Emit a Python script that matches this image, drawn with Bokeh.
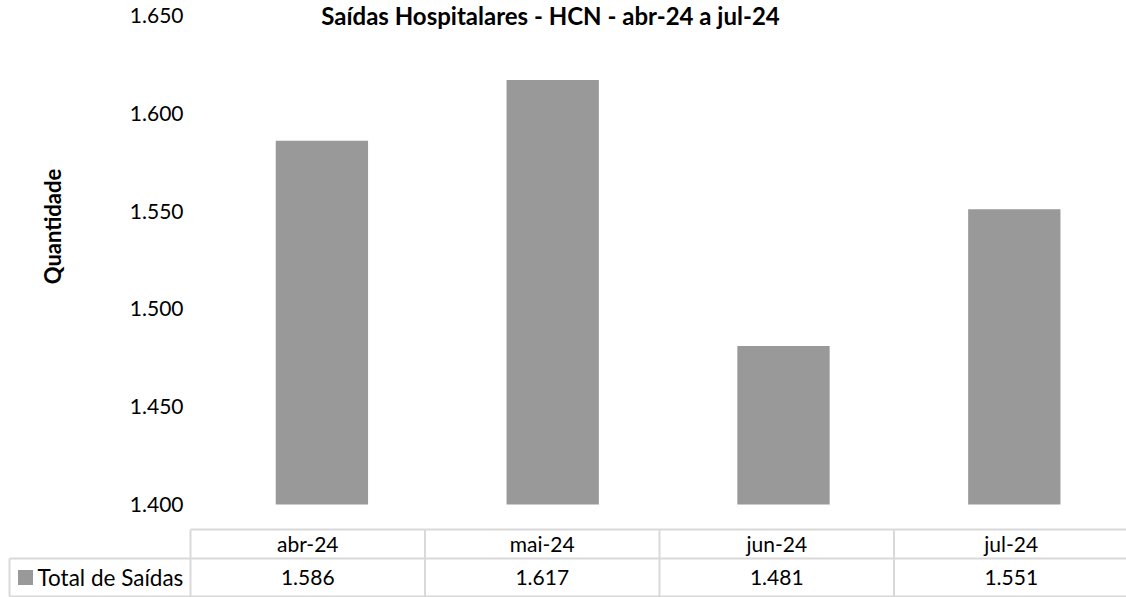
from math import pi
from bokeh.plotting import figure
from bokeh.models import Range1d
from bokeh.core.properties import value
from bokeh.embed import file_html
from bokeh.resources import INLINE

# ---- data ----
months = ["abr-24", "mai-24", "jun-24", "jul-24"]
saidas = [1586, 1617, 1481, 1551]
series_name = "Total de Saídas"
y_ticks = [1400, 1450, 1500, 1550, 1600, 1650]
title_text = "Saídas Hospitalares - HCN - abr-24 a jul-24"
y_title = "Quantidade"

# ---- style / layout constants ----
FONT = "Lato"
BAR = "#999999"
GRID = "#d9d9d9"
FS = "21px"
W, H = 1126, 597
PLOT_LEFT, BAND = 206, 230.8          # chart area left edge, category band width (px)
VAL_TOP, VAL_BOT = 15, 504            # pixel rows of top/bottom tick values
COL_LEFT, COL_W = 190, 234.5          # table column layout
ROW_TOP, ROW_MID, ROW_BOT = 529, 558, 596
TAB_LEFT = 9


def fmt(v):
    return f"{v:,}".replace(",", ".")


def py(y):  # page row -> "py" range value
    return H - y


n = len(months)
ppu = (VAL_BOT - VAL_TOP) / (y_ticks[-1] - y_ticks[0])

p = figure(width=W, height=H,
           x_range=Range1d(-PLOT_LEFT / BAND, (W - PLOT_LEFT) / BAND),
           y_range=Range1d(y_ticks[0] - (H - VAL_BOT) / ppu, y_ticks[-1] + VAL_TOP / ppu),
           output_backend="svg", toolbar_location=None, min_border=0,
           x_axis_type=None, y_axis_type=None)
p.extra_x_ranges = {"px": Range1d(0, W)}
p.extra_y_ranges = {"py": Range1d(0, H)}
p.grid.visible = False
p.outline_line_color = None

# bars
xs = [i + 0.5 for i in range(n)]
p.vbar(x=xs, top=saidas, bottom=y_ticks[0], width=0.4, color=BAR, line_color=None)

# value-axis tick labels
p.text(x=[183] * len(y_ticks), y=y_ticks, text=[fmt(v) for v in y_ticks],
       x_range_name="px", text_align="right", text_baseline="middle",
       text_font=value(FONT), text_font_size=FS, text_color="#000000")

# title and axis title
p.text(x=[550], y=[py(0)], text=[title_text], x_range_name="px", y_range_name="py",
       text_align="center", text_baseline="top", text_font=value(FONT),
       text_font_size="24px", text_font_style="bold", text_color="#000000")
p.text(x=[52], y=[py(226)], text=[y_title], angle=pi / 2, x_range_name="px", y_range_name="py",
       text_align="center", text_baseline="middle", text_font=value(FONT),
       text_font_size="22px", text_font_style="bold", text_color="#000000")

# data table grid
right = COL_LEFT + n * COL_W
p.segment(x0=[COL_LEFT, TAB_LEFT, TAB_LEFT], y0=[py(ROW_TOP), py(ROW_MID), py(ROW_BOT)],
          x1=[right] * 3, y1=[py(ROW_TOP), py(ROW_MID), py(ROW_BOT)],
          x_range_name="px", y_range_name="py", line_color=GRID, line_width=2)
vx = [COL_LEFT + i * COL_W for i in range(n + 1)]
p.segment(x0=vx + [TAB_LEFT], y0=[py(ROW_TOP)] * (n + 1) + [py(ROW_MID)],
          x1=vx + [TAB_LEFT], y1=[py(ROW_BOT)] * (n + 2),
          x_range_name="px", y_range_name="py", line_color=GRID, line_width=2)

cx = [COL_LEFT + (i + 0.5) * COL_W for i in range(n)]
hy = py((ROW_TOP + ROW_MID) / 2 - 1)
vy = py((ROW_MID + ROW_BOT) / 2)
p.text(x=cx, y=[hy] * n, text=months, x_range_name="px", y_range_name="py",
       text_align="center", text_baseline="middle",
       text_font=value(FONT), text_font_size=FS, text_color="#000000")
p.text(x=cx, y=[vy] * n, text=[fmt(v) for v in saidas], x_range_name="px", y_range_name="py",
       text_align="center", text_baseline="middle",
       text_font=value(FONT), text_font_size=FS, text_color="#000000")
p.rect(x=[TAB_LEFT + 16], y=[vy], width=15, height=15, width_units="screen", height_units="screen",
       x_range_name="px", y_range_name="py", fill_color=BAR, line_color=None)
p.text(x=[TAB_LEFT + 28], y=[vy], text=[series_name], x_range_name="px", y_range_name="py",
       text_align="left", text_baseline="middle",
       text_font=value(FONT), text_font_size="22.5px", text_color="#000000")

open("out.html", "w").write(file_html(p, INLINE))
